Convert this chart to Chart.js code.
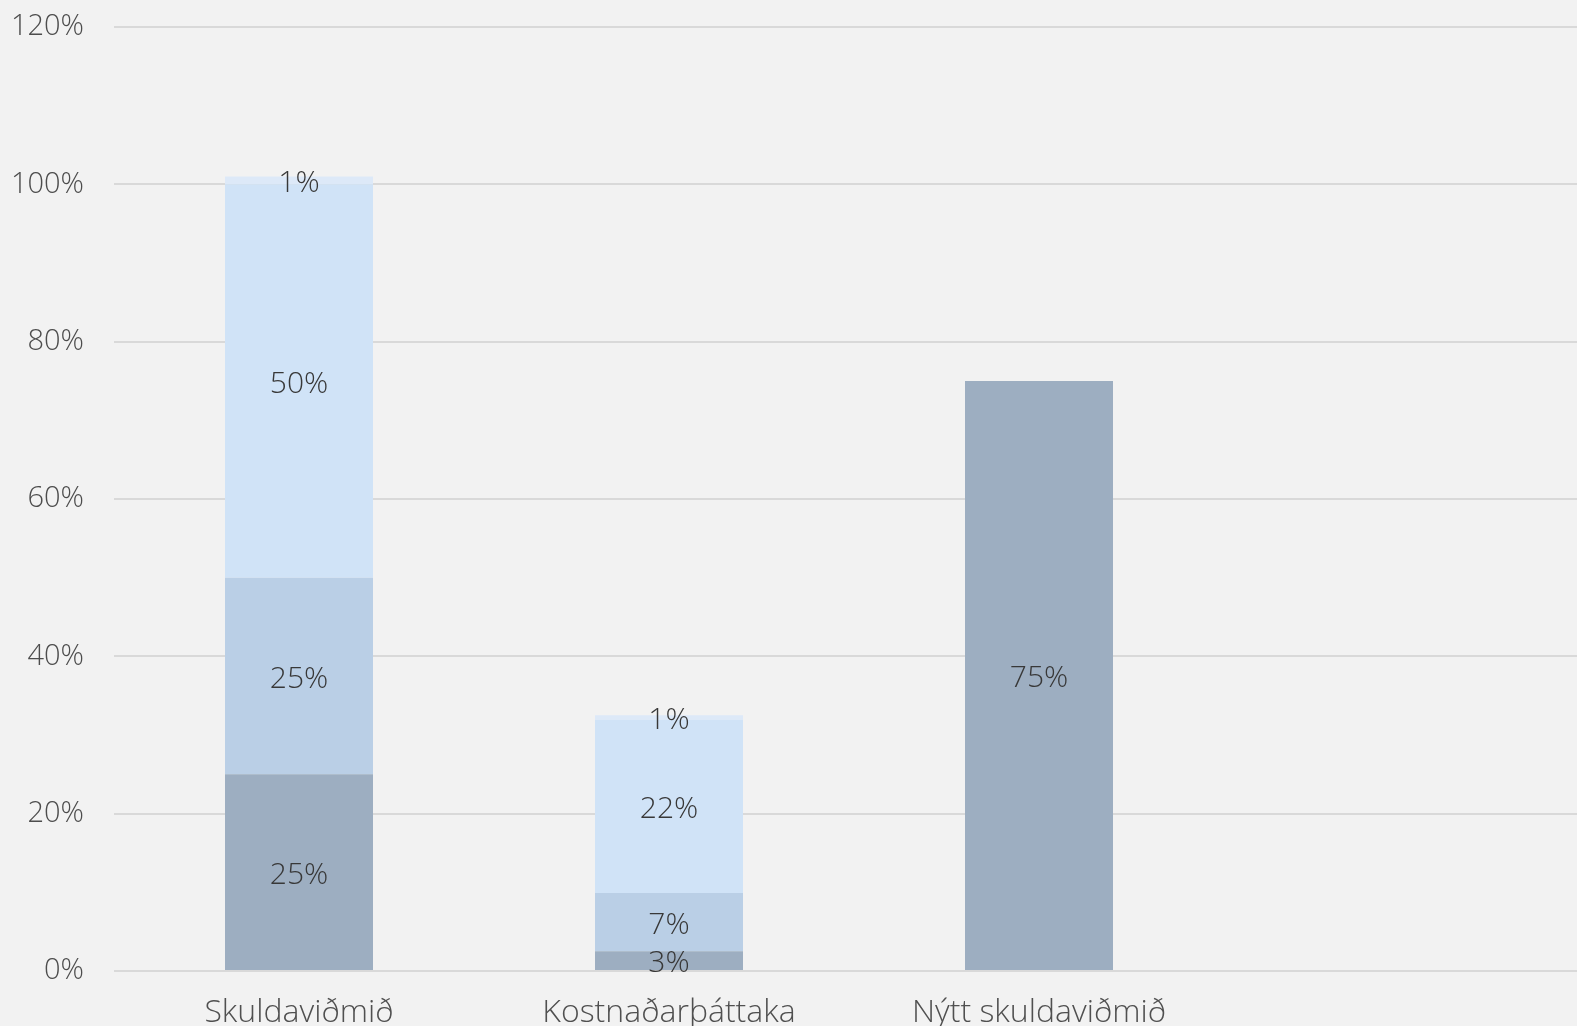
<!DOCTYPE html>
<html><head><meta charset="utf-8">
<script src="https://cdn.jsdelivr.net/npm/chart.js@4.4.0/dist/chart.umd.min.js"></script>
<style>
html,body{margin:0;padding:0;background:#f2f2f2;overflow:hidden;width:1577px;height:1026px}
#wrap{position:absolute;left:0;top:0;width:1600px;height:1060px}
</style></head><body>
<div id="wrap"><canvas id="c" width="1600" height="1060"></canvas></div>
<script>
const categories = ['Skuldaviðmið', 'Kostnaðarþáttaka', 'Nýtt skuldaviðmið', ''];
const seriesDark = [25, 2.5, 75, null];
const seriesMedium = [25, 7.4, null, null];
const seriesLight = [50, 22, null, null];
const seriesTop = [1, 0.6, null, null];
const yTickValues = [0, 20, 40, 60, 80, 100, 120];

const FONT = '"Open Sans", "Noto Sans", sans-serif';

const labelPlugin = {
  id: 'segLabels',
  afterDatasetsDraw(chart) {
    const ctx = chart.ctx;
    ctx.save();
    ctx.font = '300 30px ' + FONT;
    ctx.fillStyle = '#383838';
    ctx.textAlign = 'center';
    ctx.textBaseline = 'middle';
    chart.data.datasets.forEach((ds, i) => {
      const meta = chart.getDatasetMeta(i);
      meta.data.forEach((bar, j) => {
        const v = ds.data[j];
        if (v == null || v === 0) return;
        const p = bar.getProps(['x', 'y', 'base'], true);
        ctx.fillText(Math.round(v) + '%', p.x, (p.y + p.base) / 2 + 3);
      });
    });
    ctx.restore();
  }
};

const common = { barPercentage: 0.4, categoryPercentage: 1, borderWidth: 0 };

new Chart(document.getElementById('c'), {
  type: 'bar',
  data: {
    labels: categories,
    datasets: [
      Object.assign({ label: 'a', data: seriesDark, backgroundColor: '#9daec1' }, common),
      Object.assign({ label: 'b', data: seriesMedium, backgroundColor: '#bacfe6' }, common),
      Object.assign({ label: 'c', data: seriesLight, backgroundColor: '#d0e3f7' }, common),
      Object.assign({ label: 'd', data: seriesTop, backgroundColor: '#dde9f8' }, common)
    ]
  },
  options: {
    responsive: false,
    animation: false,
    devicePixelRatio: 1,
    layout: { padding: { top: 27, right: 6, left: 0, bottom: 0 } },
    plugins: { legend: { display: false }, tooltip: { enabled: false } },
    scales: {
      x: {
        stacked: true,
        grid: { display: false },
        border: { display: false },
        ticks: { color: '#505050', font: { family: FONT, size: 32, weight: 300 }, padding: 15, maxRotation: 0, autoSkip: false },
        afterFit(scale) { scale.height = 89; }
      },
      y: {
        stacked: true,
        min: 0, max: 120,
        afterBuildTicks(scale) { scale.ticks = yTickValues.map(v => ({ value: v })); },
        grid: { color: '#d9d9d9', lineWidth: 2, drawTicks: false },
        border: { display: false },
        ticks: { color: '#4d4d4d', font: { family: FONT, size: 29, weight: 300 }, padding: 30, callback: v => v + '%' },
        afterFit(scale) { scale.width = 114; scale.paddingTop = 0; scale.paddingBottom = 0; }
      }
    }
  },
  plugins: [labelPlugin]
});
</script>
</body></html>
